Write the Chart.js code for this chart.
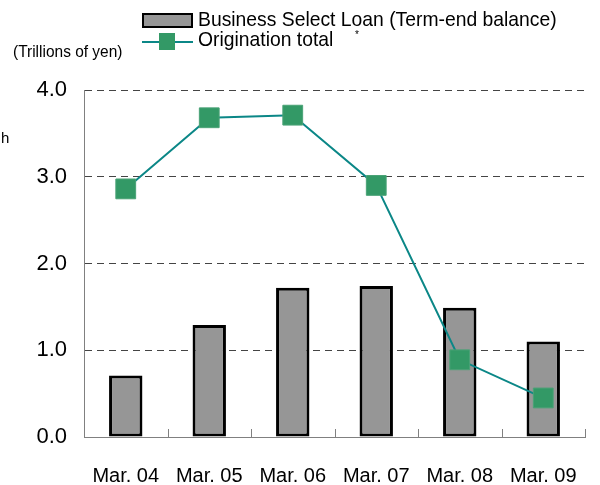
<!DOCTYPE html>
<html>
<head>
<meta charset="utf-8">
<script src="https://cdn.jsdelivr.net/npm/chart.js@4/dist/chart.umd.min.js"></script>
<style>
  html, body { margin: 0; padding: 0; background: #fff; }
  #wrap { position: relative; width: 600px; height: 485px; }
  #chart { position: absolute; left: 0; top: 0; }
  .txt { position: absolute; white-space: nowrap; color: #000; line-height: 1;
         font-family: "Liberation Sans", Arial, sans-serif; transform-origin: 0 0; }
</style>
</head>
<body>
<div id="wrap">
  <canvas id="chart" width="600" height="485"></canvas>

  <div style="position:absolute;left:142px;top:13px;width:51px;height:15px;box-sizing:border-box;background:#969696;border:2px solid #000;"></div>
  <div class="txt" style="left:198px;top:8px;font-size:21px;transform:scaleX(0.92);">Business Select Loan (Term-end balance)</div>

  <div style="position:absolute;left:142px;top:41px;width:51px;height:2px;background:#0b8787;"></div>
  <div style="position:absolute;left:159px;top:33px;width:16px;height:17px;background:#339966;"></div>
  <div class="txt" style="left:198px;top:28px;font-size:21px;transform:scaleX(0.92);">Origination total</div>

  <div class="txt" style="left:355px;top:30px;font-size:10px;">*</div>
  <div class="txt" style="left:13px;top:43px;font-size:17px;transform:scaleX(0.91);">(Trillions of yen)</div>
  <div class="txt" style="left:1px;top:130px;font-size:15px;">h</div>
</div>
<script>
const categories = ['Mar. 04', 'Mar. 05', 'Mar. 06', 'Mar. 07', 'Mar. 08', 'Mar. 09'];
const balance = [0.71, 1.29, 1.72, 1.74, 1.49, 1.10];
const origination = [2.86, 3.68, 3.71, 2.90, 0.89, 0.45];
const yTicks = [0, 1, 2, 3, 4];

// small inward ticks on the x axis at category boundaries
const innerTicks = {
    id: 'innerTicks',
    afterDatasetsDraw(chart) {
        const x = chart.scales.x;
        const ctx = chart.ctx;
        const bottom = chart.chartArea.bottom;
        ctx.save();
        ctx.strokeStyle = '#808080';
        ctx.lineWidth = 1;
        for (let i = 1; i <= categories.length; i++) {
            let px;
            if (i < categories.length) {
                px = (x.getPixelForValue(i - 1) + x.getPixelForValue(i)) / 2;
            } else {
                px = chart.chartArea.right;
            }
            px = Math.round(px) + 0.5;
            ctx.beginPath();
            ctx.moveTo(px, bottom);
            ctx.lineTo(px, bottom - 8);
            ctx.stroke();
        }
        ctx.restore();
    }
};

new Chart(document.getElementById('chart'), {
    data: {
        labels: categories,
        datasets: [{
            type: 'line',
            label: 'Origination total',
            data: origination,
            borderColor: '#0b8787',
            borderWidth: 2,
            pointStyle: 'rect',
            pointRadius: 14,
            pointHoverRadius: 14,
            pointBackgroundColor: '#339966',
            pointBorderColor: '#4aa276',
            pointBorderWidth: 1,
            tension: 0,
            order: 0
        }, {
            type: 'bar',
            label: 'Business Select Loan (Term-end balance)',
            data: balance,
            backgroundColor: '#969696',
            borderColor: '#000',
            borderWidth: 3,
            borderSkipped: false,
            categoryPercentage: 1,
            barPercentage: 0.4,
            order: 1
        }]
    },
    options: {
        responsive: false,
        animation: false,
        layout: { padding: { top: 90, right: 5, bottom: 0, left: 0 } },
        plugins: { legend: { display: false }, tooltip: { enabled: false } },
        scales: {
            x: {
                afterFit(scale) { scale.height = 48; },
                grid: { display: false },
                border: { display: true, color: '#808080', width: 1 },
                ticks: {
                    color: '#000',
                    padding: 19,
                    maxRotation: 0,
                    font: { family: '"Liberation Sans", Arial', size: 20 }
                }
            },
            y: {
                min: 0,
                max: 4,
                afterFit(scale) { scale.width = 84; },
                afterBuildTicks(scale) { scale.ticks = yTicks.map(v => ({ value: v })); },
                grid: {
                    color: ctx => (ctx.tick && ctx.tick.value === 0) ? 'rgba(0,0,0,0)' : '#444',
                    lineWidth: 1,
                    drawTicks: false
                },
                border: { display: true, color: '#808080', width: 1, dash: [7, 5] },
                ticks: {
                    color: '#000',
                    padding: 17,
                    callback: v => Number(v).toFixed(1),
                    font: { family: '"Liberation Sans", Arial', size: 22 }
                }
            }
        }
    },
    plugins: [innerTicks]
});
</script>
</body>
</html>
